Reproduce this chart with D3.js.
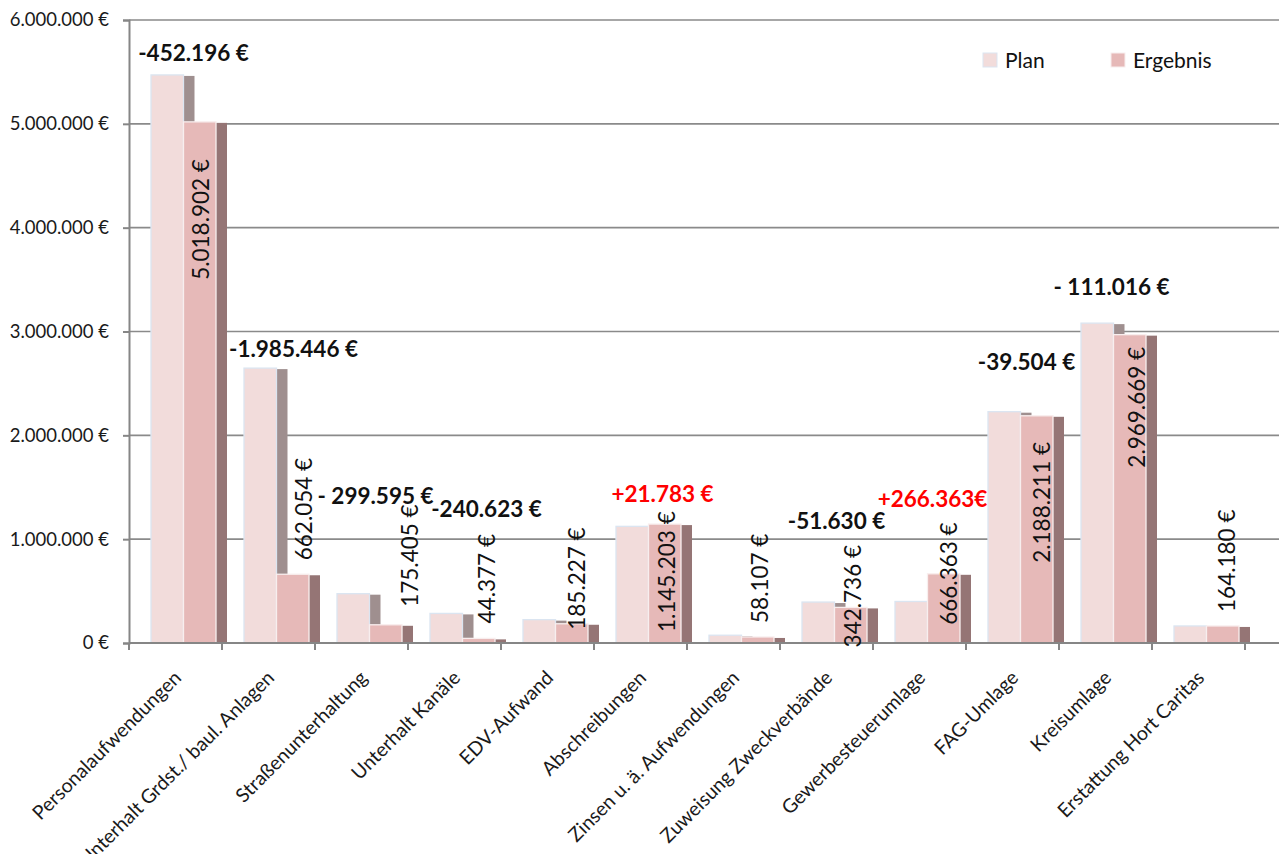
<!DOCTYPE html>
<html>
<head>
<meta charset="utf-8">
<script src="https://cdn.jsdelivr.net/npm/d3@7"></script>
<style>
  body { margin: 0; background: #ffffff; }
  svg { display: block; font-family: Lato, Carlito, Calibri, sans-serif; }
</style>
</head>
<body>
<svg id="chart" width="1279" height="854"></svg>
<script>
// Data
const categories = [
    "Personalaufwendungen",
    "Unterhalt Grdst./ baul. Anlagen",
    "Straßenunterhaltung",
    "Unterhalt Kanäle",
    "EDV-Aufwand",
    "Abschreibungen",
    "Zinsen u. ä. Aufwendungen",
    "Zuweisung Zweckverbände",
    "Gewerbesteuerumlage",
    "FAG-Umlage",
    "Kreisumlage",
    "Erstattung Hort Caritas",
];
const planValues = [5471098, 2647500, 475000, 285000, 225000, 1123420, 75000, 394366, 400000, 2227715, 3080685, 164180];
const resultValues = [5018902, 662054, 175405, 44377, 185227, 1145203, 58107, 342736, 666363, 2188211, 2969669, 164180];
const diffLabels = ["-452.196 €", "-1.985.446 €", "- 299.595 €", "-240.623 €", null, "+21.783 €", null, "-51.630 €", "+266.363€", "-39.504 €", "- 111.016 €", null];
const yTicks = [0, 1000000, 2000000, 3000000, 4000000, 5000000, 6000000];
const seriesNames = ["Plan", "Ergebnis"];

// Layout
const svg = d3.select("#chart");
const plot = { left: 129, right: 1245, top: 20, bottom: 643, gridEnd: 1279 };

const de = d3.formatLocale({ decimal: ",", thousands: ".", grouping: [3], currency: ["", " €"] });
const fmt = (v) => de.format(",")(v) + " €";

const x0 = d3.scaleBand().domain(categories).range([plot.left, plot.right]);
const x1 = d3.scaleBand().domain(seriesNames).range([22, 87]);
const y = d3.scaleLinear().domain([0, 6000000]).range([plot.bottom, plot.top]);

const face = { Plan: "#f2dcdb", Ergebnis: "#e6b9b8" };
const edge = { Plan: "#dbe5f1", Ergebnis: "#f8eeee" };
const shade = { Plan: "#9f8f8f", Ergebnis: "#957575" };
const shadowDx = 11;

// Gridlines
svg.append("g")
    .selectAll("line")
    .data(yTicks.filter((d) => d > 0))
    .join("line")
    .attr("x1", plot.left)
    .attr("x2", plot.gridEnd)
    .attr("y1", (d) => y(d))
    .attr("y2", (d) => y(d))
    .attr("stroke", "#8a8a8a")
    .attr("stroke-width", 1.6);

// Bars (shadow first, then face)
const rows = categories.map((c, i) => ({ c, i, Plan: planValues[i], Ergebnis: resultValues[i] }));
const barG = svg.append("g");
rows.forEach((r) => {
    seriesNames.forEach((s) => {
        const bx = x0(r.c) + x1(s);
        const bw = x1.bandwidth();
        const top = y(r[s]);
        barG.append("rect")
            .attr("x", bx + shadowDx)
            .attr("y", top + 1)
            .attr("width", bw)
            .attr("height", plot.bottom - top - 1)
            .attr("fill", shade[s]);
        barG.append("rect")
            .attr("x", bx)
            .attr("y", top)
            .attr("width", bw)
            .attr("height", plot.bottom - top)
            .attr("fill", face[s])
            .attr("stroke", edge[s])
            .attr("stroke-width", 1.3);
    });
});

// Axes
const yAxis = d3.axisLeft(y).tickValues(yTicks).tickSize(6).tickPadding(14).tickFormat(fmt);
const yg = svg.append("g").attr("transform", `translate(${plot.left},0)`).call(yAxis);
yg.select(".domain").attr("stroke", "#868686").attr("stroke-width", 2);
yg.selectAll(".tick line").attr("stroke", "#868686").attr("stroke-width", 2);
yg.selectAll(".tick text")
    .attr("font-size", 18.5)
    .attr("font-family", "Lato, Carlito, Calibri, sans-serif")
    .attr("fill", "#1a1a1a");

// x axis baseline and ticks at category boundaries
svg.append("line")
    .attr("x1", plot.left)
    .attr("x2", plot.gridEnd)
    .attr("y1", plot.bottom)
    .attr("y2", plot.bottom)
    .attr("stroke", "#868686")
    .attr("stroke-width", 2);
svg.append("g")
    .selectAll("line")
    .data([plot.left].concat(categories.map((d) => x0(d) + x0.bandwidth())))
    .join("line")
    .attr("x1", (d) => d)
    .attr("x2", (d) => d)
    .attr("y1", plot.bottom)
    .attr("y2", plot.bottom + 7)
    .attr("stroke", "#868686")
    .attr("stroke-width", 2);

// Category labels, rotated -45
svg.append("g")
    .selectAll("text")
    .data(categories)
    .join("text")
    .attr("transform", (d) => `translate(${x0(d) + x0.bandwidth() / 2 + 7},${plot.bottom + 36}) rotate(-45)`)
    .attr("text-anchor", "end")
    .attr("font-size", 19.5)
    .attr("fill", "#1a1a1a")
    .text((d) => d);

// Ergebnis value labels (rotated), offsets placed by hand like the original
const valPos = [[1, 158], [11, -14], [24, -18], [8, -15], [5, 6], [2, 108], [2, -14], [2, 40], [5, 51], [5, 147], [7, 133], [4, -14]];
svg.append("g")
    .selectAll("text")
    .data(rows)
    .join("text")
    .attr("transform", (d) => {
        const cx = x0(d.c) + x1("Ergebnis") + x1.bandwidth() / 2 + valPos[d.i][0];
        const sy = y(d.Ergebnis) + valPos[d.i][1];
        return `translate(${cx},${sy}) rotate(-90)`;
    })
    .attr("dominant-baseline", "central")
    .attr("font-size", 22.5)
    .attr("fill", "#111")
    .text((d) => fmt(d.Ergebnis));

// Difference labels
const diffPos = [[18, -14], [25, -11], [14, -90], [32, -96], null, [22, -22], null, [10, -73], [13, -67], [14, -42], [6, -28], null];
svg.append("g")
    .selectAll("text")
    .data(rows.filter((d) => diffLabels[d.i]))
    .join("text")
    .attr("x", (d) => x0(d.c) + x0.bandwidth() / 2 + diffPos[d.i][0])
    .attr("y", (d) => y(Math.max(d.Plan, d.Ergebnis)) + diffPos[d.i][1])
    .attr("text-anchor", "middle")
    .attr("font-size", 22.5)
    .attr("font-weight", "bold")
    .attr("fill", (d) => (diffLabels[d.i].startsWith("+") ? "#ff0000" : "#111"))
    .text((d) => diffLabels[d.i]);

// Legend
const legend = svg.append("g");
const legendX = [983, 1111];
seriesNames.forEach((s, i) => {
    legend.append("rect")
        .attr("x", legendX[i])
        .attr("y", 53)
        .attr("width", 14)
        .attr("height", 14)
        .attr("fill", face[s])
        .attr("stroke", edge[s]);
    legend.append("text")
        .attr("x", legendX[i] + 22)
        .attr("y", 68)
        .attr("font-size", 21)
        .attr("fill", "#111")
        .text(s);
});
</script>
</body>
</html>
